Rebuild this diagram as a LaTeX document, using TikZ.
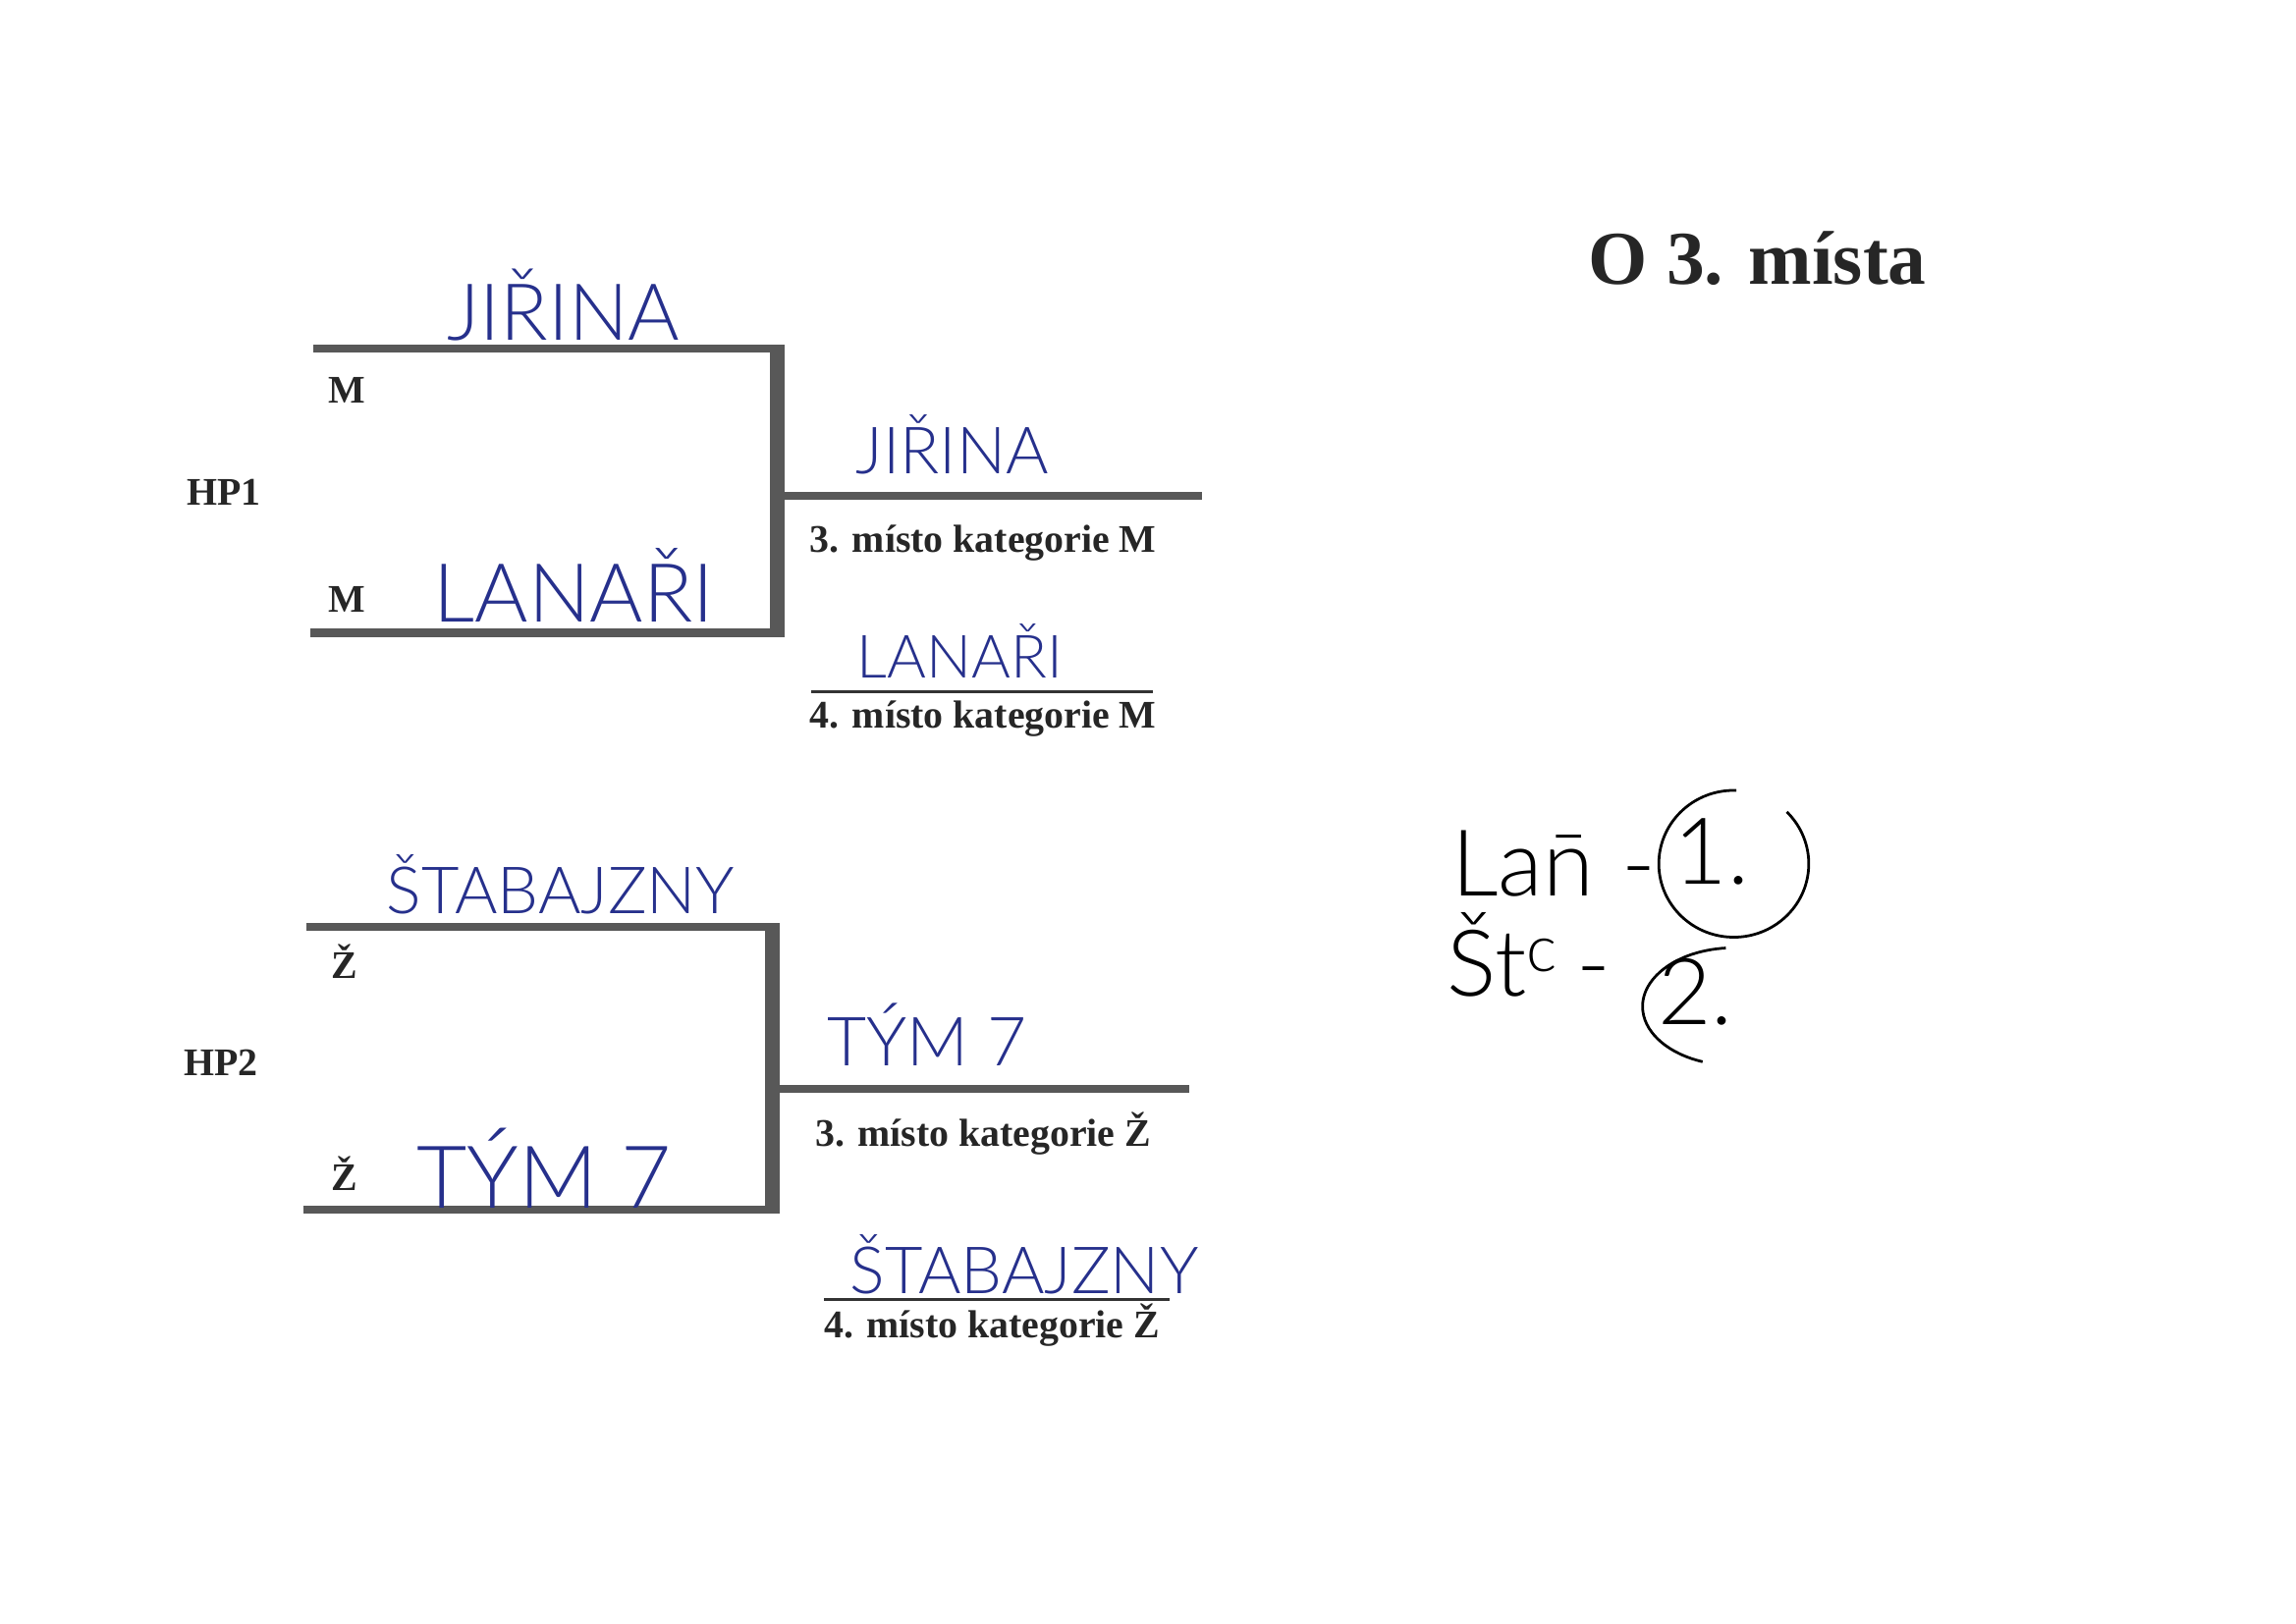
\documentclass[tikz,border=0pt]{standalone}
\usepackage{fontspec}
\setmainfont{Liberation Serif}
\newfontfamily\hand{Lato Light}
\usetikzlibrary{positioning}
\definecolor{ink}{RGB}{38,48,140}
\definecolor{barcol}{RGB}{88,88,88}
\tikzset{lbl/.style={font=\bfseries\fontsize{14.4}{16}\selectfont,text=black!85,inner sep=0pt,anchor=base},
handw/.style={font=\hand\fontsize{#1}{#1}\selectfont,text=ink,inner sep=0pt,anchor=base},
note/.style={font=\hand\fontsize{34}{34}\selectfont,inner sep=0pt},
armline/.style={draw=barcol,line width=3pt},
stemline/.style={draw=barcol,line width=5.5pt},
ruleline/.style={draw=black!80,line width=0.9pt}}

\begin{document}
\begin{tikzpicture}[x=0.0190385cm,y=-0.0190385cm]
\useasboundingbox (0,0) rectangle (1560,1103.6);
\node[lbl,font=\bfseries\fontsize{28}{30}\selectfont] (title) at (1194,193) {O 3. místa};

\coordinate (a1) at (213,237); \coordinate (a2) at (528,237);
\coordinate (b1) at (211,430); \coordinate (b2) at (528,430);
\coordinate (c1) at (528,337); \coordinate (c2) at (817,337);
\coordinate (r1) at (551,470); \coordinate (r2) at (783,470);
\draw[armline] (a1) -- (a2);
\draw[armline] (b1) -- (b2);
\draw[armline] (c1) -- (c2);
\draw[stemline] ([yshift=1.5pt]a2) -- ([yshift=-1.5pt]b2);
\draw[ruleline] (r1) -- (r2);
\node[lbl] (hpa) at (152,343) {HP1};
\node[lbl] (ma) at (236,274) {M};
\node[lbl] (mb) at (236,416) {M};
\node[lbl] (thirdm) at (668,375) {3. místo kategorie M};
\node[lbl] (fourthm) at (668,495) {4. místo kategorie M};
\node[handw=29] (jira) at (383,231) {JIŘINA};
\node[handw=30] (lana) at (390,423) {LANAŘI};
\node[handw=24] (jirb) at (647,322) {JIŘINA};
\node[handw=22] (lanb) at (652,461) {LANAŘI};

\coordinate (d1) at (208,630); \coordinate (d2) at (525,630);
\coordinate (e1) at (206,822); \coordinate (e2) at (525,822);
\coordinate (f1) at (525,740); \coordinate (f2) at (808,740);
\coordinate (s1) at (560,883); \coordinate (s2) at (795,883);
\draw[armline] (d1) -- (d2);
\draw[armline] (e1) -- (e2);
\draw[armline] (f1) -- (f2);
\draw[stemline] ([yshift=1.5pt]d2) -- ([yshift=-1.5pt]e2);
\draw[ruleline] (s1) -- (s2);
\node[lbl] (hpb) at (150,731) {HP2};
\node[lbl] (za) at (234,665) {Ž};
\node[lbl] (zb) at (234,809) {Ž};
\node[lbl] (thirdz) at (668,779) {3. místo kategorie Ž};
\node[lbl] (fourthz) at (674,909) {4. místo kategorie Ž};
\node[handw=24] (staa) at (381,621) {ŠTABAJZNY};
\node[handw=32] (tyma) at (370,821) {TÝM 7};
\node[handw=25] (tymb) at (630,724) {TÝM 7};
\node[handw=24] (stab) at (696,879) {ŠTABAJZNY};

\node[note,anchor=base west] (lan) at (986,609) {La\=n\hspace{0.3em}-};
\node[note,anchor=base west] (stc) at (983,677) {Št\textsuperscript{c}\hspace{0.2em}-};
\node[note] (one) at (1163,579) {1.};
\node[note] (two) at (1152,674) {2.};
\draw[line width=1pt] ([shift={(15,8)}]one.center) ++(88:0.97cm and 0.95cm) arc[start angle=88,end angle=405,x radius=0.97cm,y radius=0.95cm];
\draw[line width=1pt] ([shift={(26,10)}]two.center) ++(95:1.18cm and 0.76cm) arc[start angle=95,end angle=250,x radius=1.18cm,y radius=0.76cm];
\end{tikzpicture}
\end{document}
